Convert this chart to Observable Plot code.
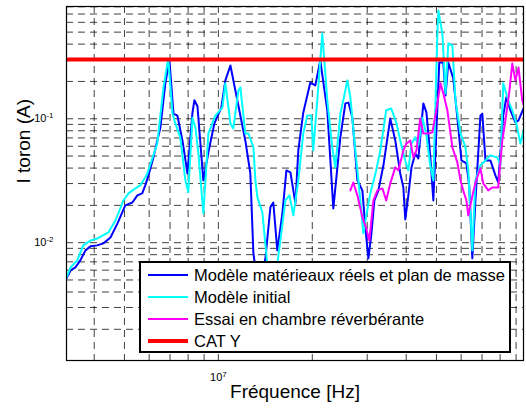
<!DOCTYPE html>
<html>
<head>
<meta charset="utf-8">
<script src="https://cdn.jsdelivr.net/npm/d3@7"></script>
<script src="https://cdn.jsdelivr.net/npm/@observablehq/plot@0.6"></script>
<style>
  body { margin: 0; background: #fff; }
  #wrap { position: relative; width: 526px; height: 412px; font-family: "Liberation Sans", Arial, sans-serif; }
  #legend { position: absolute; left: 139px; top: 261px; width: 368px; height: 88px; border: 2px solid #000; background: #fff; }
  .row { position: absolute; left: 0; height: 22px; line-height: 22px; font-size: 16.5px; color: #000; white-space: nowrap; }
  .row .sw { position: absolute; left: 7px; width: 40px; top: 50%; }
  .row .lb { position: absolute; left: 53px; top: 0; }
</style>
</head>
<body>
<div id="wrap"></div>
<script>
// Frequencies in MHz, currents in A
const blueFreq = [3.26,3.36,3.48,3.61,3.75,3.89,4.09,4.28,4.51,4.75,5.03,5.30,5.50,5.70,5.83,5.97,6.19,6.52,6.76,6.97,7.18,7.39,7.67,7.96,8.26,8.38,8.57,8.95,9.29,9.71,10.22,10.53,10.93,11.50,12.20,12.66,12.95,13.24,13.84,14.15,14.68,15.00,15.45,16.04,16.52,17.02,17.66,18.04,18.71,19.71,20.45,21.22,22.34,23.36,24.60,25.53,26.11,26.88,27.90,28.95,29.58,30.25,30.91,31.62,32.58,33.81,35.56,36.90,38.28,39.17,39.72,40.64,41.59,42.76,43.75,45.39,46.45,47.75,48.87,50.00,51.05,52.60,53.46,54.58,56.62,58.34,60.12,62.37,63.68,65.16,66.68,69.18,70.15,71.78,74.47,77.27,78.89,81.85,83.75,86.30,89.54,91.62,95.06];
const blueI = [0.00515,0.00597,0.00632,0.00720,0.00867,0.00934,0.00951,0.00987,0.0110,0.0143,0.0200,0.0211,0.0241,0.0250,0.0290,0.0349,0.0488,0.0851,0.193,0.295,0.110,0.106,0.0668,0.0362,0.112,0.141,0.126,0.0318,0.0535,0.0917,0.123,0.204,0.269,0.141,0.0668,0.0362,0.0082,0.00545,0.00575,0.00747,0.0193,0.0211,0.00867,0.0172,0.0383,0.0369,0.0207,0.0555,0.112,0.196,0.186,0.295,0.117,0.0189,0.0707,0.133,0.135,0.102,0.0318,0.0264,0.0133,0.00747,0.0115,0.0219,0.0264,0.0421,0.1005,0.0668,0.0362,0.0279,0.0154,0.0241,0.0405,0.0525,0.0479,0.133,0.112,0.0506,0.0219,0.0806,0.284,0.284,0.154,0.284,0.211,0.102,0.0461,0.0436,0.0290,0.00747,0.0219,0.106,0.110,0.0461,0.0461,0.0349,0.0306,0.106,0.149,0.117,0.0933,0.0969,0.121];

const cyanFreq = [3.26,3.36,3.53,3.69,3.89,4.09,4.28,4.44,4.68,4.96,5.15,5.42,5.62,5.83,5.92,6.37,6.67,6.87,6.91,7.13,7.28,7.55,7.84,8.01,8.26,8.44,8.63,8.95,9.29,9.78,10.30,10.53,10.93,11.17,11.59,11.76,12.20,12.48,12.95,13.14,13.34,13.84,14.46,15.35,15.80,16.40,16.90,17.39,18.04,18.71,19.27,19.86,20.14,20.75,21.53,22.34,23.18,23.71,24.60,25.15,25.90,26.49,27.48,28.10,28.51,29.16,29.79,30.69,32.06,33.04,34.51,35.81,37.24,38.28,39.72,40.64,41.59,42.76,43.75,45.08,46.45,47.75,48.87,50.35,50.70,52.24,53.46,54.58,56.23,57.54,59.70,61.94,63.24,65.16,66.68,69.18,71.78,74.47,78.34,80.17,81.85,84.90,87.50,90.16,92.90,96.38];
const cyanI = [0.00525,0.00632,0.00720,0.00951,0.0104,0.0108,0.0115,0.0121,0.0151,0.0219,0.0250,0.0274,0.0290,0.0337,0.0362,0.0632,0.179,0.284,0.301,0.110,0.0917,0.0707,0.0318,0.0255,0.102,0.0851,0.0525,0.0172,0.0761,0.106,0.123,0.193,0.0917,0.0835,0.169,0.179,0.0761,0.0761,0.0587,0.0318,0.0232,0.0175,0.00545,0.00597,0.0104,0.0219,0.0241,0.0166,0.0318,0.0761,0.106,0.106,0.0555,0.141,0.487,0.141,0.0587,0.0405,0.110,0.141,0.204,0.149,0.0555,0.0318,0.0219,0.0119,0.0166,0.0250,0.0383,0.0555,0.117,0.121,0.0917,0.0668,0.0461,0.0383,0.0632,0.0707,0.0609,0.102,0.0733,0.0421,0.0318,0.487,0.747,0.487,0.160,0.405,0.390,0.141,0.0761,0.0587,0.0383,0.00867,0.0318,0.0421,0.0461,0.0506,0.0488,0.0421,0.193,0.141,0.117,0.0917,0.0632,0.0917];

const magFreq = [26.49,27.07,27.90,28.95,29.79,30.47,31.39,32.36,33.57,34.51,35.56,36.90,37.76,39.17,40.09,41.21,42.17,43.15,44.36,45.39,47.10,48.53,50.35,51.52,52.60,54.20,56.23,58.34,59.70,60.95,62.37,63.24,64.71,66.68,69.18,70.63,73.28,75.51,78.89,81.28,83.18,85.70,87.50,89.54,91.62,94.19,96.38];
const magI = [0.0264,0.0306,0.0241,0.0160,0.0130,0.0104,0.0219,0.0264,0.0274,0.0219,0.0301,0.0405,0.0383,0.0555,0.0632,0.0668,0.0488,0.0555,0.1005,0.0761,0.0761,0.0776,0.133,0.193,0.160,0.117,0.0587,0.0445,0.0318,0.0264,0.0219,0.0166,0.0219,0.0306,0.0398,0.0301,0.0264,0.0279,0.0279,0.0668,0.0969,0.169,0.279,0.204,0.259,0.141,0.117];

const catyLevel = [0.3];

const seriesNames = ["Modèle matérieaux réels et plan de masse", "Modèle initial", "Essai en chambre réverbérante", "CAT Y"];
const seriesColors = ["#0000ff", "#00ffff", "#ff00ff", "#ff0000"];

const xDomain = [3.26, 95.06];
const yDomain = [0.00112, 0.805];
const xGrid = [4,5,6,7,8,9,10,20,30,40,50,60,70,80,90];
const yGrid = [0.002,0.003,0.004,0.005,0.006,0.007,0.008,0.009,0.01,0.02,0.03,0.04,0.05,0.06,0.07,0.08,0.09,0.1,0.2,0.3,0.4,0.5,0.6,0.7,0.8];
const xTicks = [10];
const xTickLabels = ["10^7"];
const yTicks = [0.01, 0.1];
const yTickLabels = ["10^-2", "10^-1"];
const xLabel = "Fréquence [Hz]";
const yLabel = "I toron (A)";

const toRows = (fs, is) => fs.map((f, k) => ({f, i: is[k]})).filter(d => d.i != null);
const blue = toRows(blueFreq, blueI);
const cyan = toRows(cyanFreq, cyanI);
const mag = toRows(magFreq, magI);

const gridStyle = {stroke: "#000", strokeOpacity: 0.75, strokeWidth: 1, strokeDasharray: "7,5"};

const chart = Plot.plot({
  width: 526,
  height: 412,
  marginLeft: 66,
  marginRight: 3,
  marginTop: 6,
  marginBottom: 52,
  style: {fontFamily: "'Liberation Sans', Arial, sans-serif", background: "#fff", color: "#000"},
  x: {type: "log", domain: xDomain, label: null},
  y: {type: "log", domain: yDomain, label: null},
  marks: [
    Plot.ruleX(xGrid, gridStyle),
    Plot.ruleY(yGrid, gridStyle),
    Plot.line(blue, {x: "f", y: "i", stroke: seriesColors[0], strokeWidth: 2, clip: true}),
    Plot.line(cyan, {x: "f", y: "i", stroke: seriesColors[1], strokeWidth: 2, clip: true}),
    Plot.line(mag, {x: "f", y: "i", stroke: seriesColors[2], strokeWidth: 2, clip: true}),
    Plot.ruleY(catyLevel, {stroke: seriesColors[3], strokeWidth: 4}),
    Plot.frame({stroke: "#000", strokeWidth: 1.2}),
    Plot.axisX(xTicks, {anchor: "bottom", tickSize: 0, tickPadding: 13, fontSize: 11,
      tickFormat: (d) => xTickLabels[xTicks.indexOf(d)], label: null}),
    Plot.axisY(yTicks, {anchor: "left", tickSize: 0, tickPadding: 13, fontSize: 11,
      tickFormat: (d) => yTickLabels[yTicks.indexOf(d)], label: null}),
    Plot.text([xLabel], {frameAnchor: "bottom", dy: 37, fontSize: 19, text: d => d}),
    Plot.text([yLabel], {frameAnchor: "left", dx: -43, rotate: -90, fontSize: 19, text: d => d})
  ]
});

// superscript exponents in tick labels
const ns = "http://www.w3.org/2000/svg";
chart.querySelectorAll("text").forEach(t => {
  const s = t.textContent;
  if (/^10\^/.test(s)) {
    const exp = s.slice(3);
    t.textContent = "";
    const a = document.createElementNS(ns, "tspan");
    a.textContent = "10";
    const b = document.createElementNS(ns, "tspan");
    b.textContent = exp;
    b.setAttribute("dy", "-4.5");
    b.setAttribute("font-size", "8");
    t.append(a, b);
  }
});

const wrap = document.getElementById("wrap");
wrap.appendChild(chart);

// legend
const legend = document.createElement("div");
legend.id = "legend";
const rowCenters = [12, 34, 56, 78];
seriesNames.forEach((name, k) => {
  const row = document.createElement("div");
  row.className = "row";
  row.style.top = (rowCenters[k] - 11) + "px";
  const sw = document.createElement("div");
  sw.className = "sw";
  const th = k === 3 ? 4 : 2;
  sw.style.height = th + "px";
  sw.style.marginTop = (-th / 2) + "px";
  sw.style.background = seriesColors[k];
  const lb = document.createElement("span");
  lb.className = "lb";
  lb.textContent = name;
  row.append(sw, lb);
  legend.appendChild(row);
});
wrap.appendChild(legend);
</script>
</body>
</html>
